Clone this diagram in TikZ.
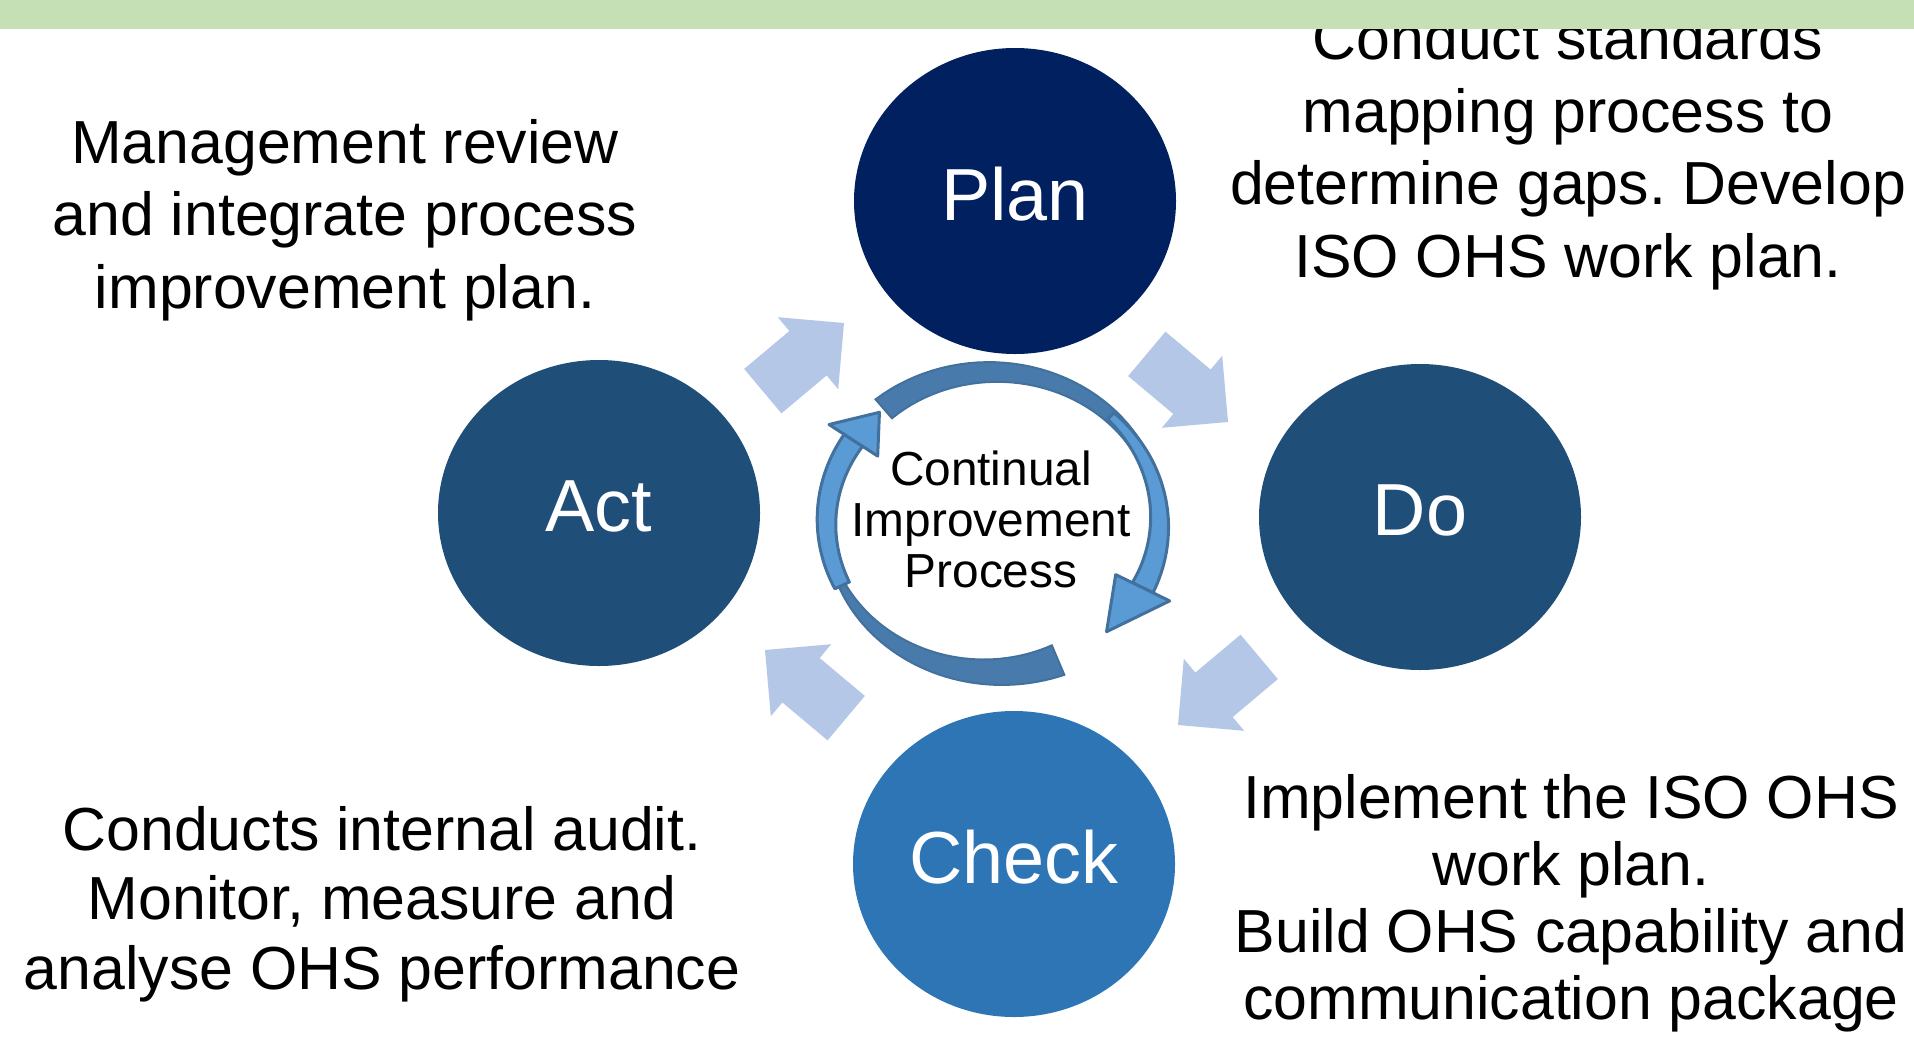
\documentclass[tikz,border=0pt]{standalone}
\usepackage{fontspec}
\setmainfont{Liberation Sans}
\usetikzlibrary{shapes.geometric}
\frenchspacing

\definecolor{planblue}{RGB}{0,32,96}
\definecolor{stageblue}{RGB}{31,78,121}
\definecolor{checkblue}{RGB}{46,117,182}
\definecolor{arrowblue}{RGB}{180,199,231}
\definecolor{ringdark}{RGB}{72,122,172}
\definecolor{ringline}{RGB}{65,113,156}
\definecolor{ringlight}{RGB}{91,155,213}
\definecolor{bargreen}{RGB}{197,224,180}

% centre and middle radii of the small cycle ring
\newcommand{\ringcx}{9.93}
\newcommand{\ringcy}{-5.22}
\newcommand{\ringrx}{1.665}
\newcommand{\ringry}{1.50}

% band along the ring: style, from, to, half width at start, half width at end
\newcommand{\ringband}[5]{%
  \filldraw[#1] plot[domain=#2:#3, samples=40, variable=\t]
    ({\ringcx+(\ringrx+(#4)+((#5)-(#4))*(\t-(#2))/((#3)-(#2)))*cos(\t)},
     {\ringcy+(\ringry+(#4)+((#5)-(#4))*(\t-(#2))/((#3)-(#2)))*sin(\t)})
    -- plot[domain=#3:#2, samples=40, variable=\t]
    ({\ringcx+(\ringrx-(#4)-((#5)-(#4))*(\t-(#2))/((#3)-(#2)))*cos(\t)},
     {\ringcy+(\ringry-(#4)-((#5)-(#4))*(\t-(#2))/((#3)-(#2)))*sin(\t)})
    -- cycle;}

% head on the ring: style, base angle, tip angle, half width
\newcommand{\ringhead}[4]{%
  \filldraw[#1] ({\ringcx+(\ringrx-(#4))*cos(#2)},{\ringcy+(\ringry-(#4))*sin(#2)})
    -- ({\ringcx+(\ringrx+(#4))*cos(#2)},{\ringcy+(\ringry+(#4))*sin(#2)})
    -- ({\ringcx+\ringrx*cos(#3)},{\ringcy+\ringry*sin(#3)}) -- cycle;}

% fat arrow between two stages: tip, direction
\newcommand{\blockarrow}[2]{%
  \fill[arrowblue, shift={#1}, rotate=#2] (0,0) -- (-0.47,0.47) -- (-0.47,0.29)
    -- (-1.06,0.29) -- (-1.06,-0.29) -- (-0.47,-0.29) -- (-0.47,-0.47) -- cycle;}

\begin{document}
\begin{tikzpicture}[
	stage/.style={ellipse, minimum width=3.22cm, minimum height=3.06cm, inner sep=0pt,
		text=white, text depth=0.14cm, font=\fontsize{21}{25}\selectfont},
	note/.style={align=center, inner sep=0pt, anchor=base, font=\fontsize{17.3}{#1}\selectfont},
	ringpart/.style={fill=ringlight, draw=ringline, line width=0.03cm, line join=round},
	ringband/.style={fill=ringdark, draw=ringline, line width=0.02cm}]
	
	% page
	\useasboundingbox (0,0) rectangle (19.14,-10.36);
	\fill[white] (0,0) rectangle (19.14,-10.36);
	
	% draw fat arrows
	\blockarrow{(8.44,-3.23)}{40}
	\blockarrow{(12.28,-4.22)}{-40}
	\blockarrow{(11.78,-7.25)}{220}
	\blockarrow{(7.65,-6.50)}{140}
	
	% draw stages
	\node[stage, fill=planblue] (plan) at (10.15,-2.01) {Plan};
	\node[stage, fill=stageblue] (do) at (14.20,-5.17) {Do};
	\node[stage, fill=checkblue] (check) at (10.14,-8.64) {Check};
	\node[stage, fill=stageblue] (act) at (5.99,-5.13) {Act};
	
	% draw cycle ring
	\ringband{ringband}{131}{15}{0.125}{0.05}
	\ringband{ringband}{205}{293}{0.035}{0.16}
	\ringband{ringpart}{45}{-26}{0.045}{0.115}
	\ringhead{ringpart}{-26}{-47}{0.30}
	\ringband{ringpart}{205}{147}{0.08}{0.11}
	\ringhead{ringpart}{147}{133}{0.29}
	\node[align=center, inner sep=0pt, anchor=base, font=\fontsize{13.6}{14.4}\selectfont]
		(cycletext) at (9.91,-5.87) {Continual\\Improvement\\Process};
	
	% draw notes (anchored on the last line)
	\node[note=20.6pt] (plannote) at (15.68,-2.77)
		{Conduct standards\\mapping process to\\determine gaps. Develop\\ISO OHS work plan.};
	\node[note=19pt] (donote) at (15.71,-10.19)
		{Implement the ISO OHS\\work plan.\\Build OHS capability and\\communication package};
	\node[note=19.7pt] (checknote) at (3.82,-9.89)
		{Conducts internal audit.\\Monitor, measure and\\analyse OHS performance};
	\node[note=20.5pt] (actnote) at (3.45,-3.08)
		{Management review\\and integrate process\\improvement plan.};
	
	% top bar
	\fill[bargreen] (0,0) rectangle (19.14,-0.29);
\end{tikzpicture}
\end{document}
